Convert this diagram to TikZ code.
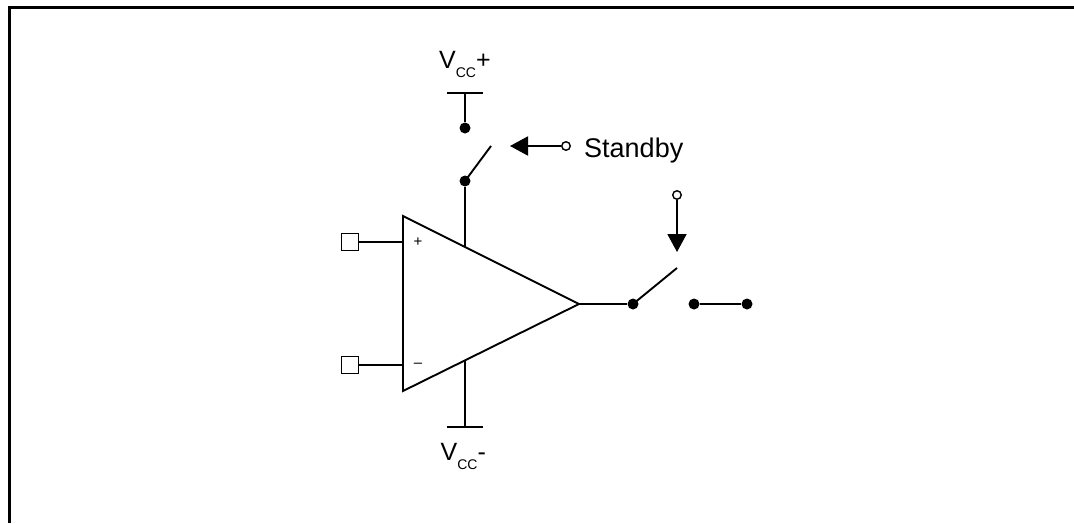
\documentclass[tikz,border=0pt]{standalone}
\usepackage{fontspec}
\setmainfont{Liberation Sans}
\usetikzlibrary{arrows.meta}
\tikzset{
  wire/.style={line width=1.9pt, line cap=butt},
  dotc/.style={circle, fill=black, inner sep=0pt, minimum size=11pt},
  opendot/.style={circle, draw=black, fill=white, line width=1.4pt, inner sep=0pt, minimum size=8.5pt},
  pinbox/.style={rectangle, draw=black, line width=1.6pt, inner sep=0pt, minimum size=17pt},
  lbl/.style={inner sep=0pt, anchor=base west},
  ctrl/.style={wire, -{Triangle[length=18pt,width=19pt]}}
}
\begin{document}
\begin{tikzpicture}[x=1pt,y=-1pt]
\useasboundingbox (0,0) rectangle (1074,523);
% frame
\draw[line width=3pt, line join=miter] (9,523) -- (9,7) -- (1074,7);

% op-amp triangle
\coordinate (tl) at (403,216);
\coordinate (bl) at (403,391);
\coordinate (tip) at (579,304);
\draw[line width=1.9pt, line join=miter] (tl) -- (tip) -- (bl) -- cycle;
\node[inner sep=0pt, font=\fontsize{15}{15}\selectfont] (plus) at (418,242) {+};
\node[inner sep=0pt, font=\fontsize{15}{15}\selectfont] (minus) at (418,365) {–};

% inputs
\node[pinbox] (inp) at (350,242) {};
\node[pinbox] (inn) at (350,365) {};
\coordinate (inpE) at (403,242);
\coordinate (innE) at (403,365);
\draw[wire] (inp.east) -- (inpE);
\draw[wire] (inn.east) -- (innE);

% Vcc+ supply with standby switch
\coordinate (vtop) at (465,93);
\coordinate (vtopL) at (447,93);
\coordinate (vtopR) at (483,93);
\draw[wire] (vtopL) -- (vtopR);
\node[dotc] (d1) at (465,128) {};
\node[dotc] (d2) at (465,181) {};
\draw[wire] (vtop) -- (d1);
\coordinate (b1) at (491,146);
\draw[wire] (d2.center) -- (b1);
\coordinate (amptop) at (465,247);
\draw[wire] (d2) -- (amptop);
\node[lbl] (vccp) at (439,68) {\fontsize{25}{25}\selectfont V\raisebox{-9.5pt}{\fontsize{14}{14}\selectfont CC}+};

% standby control
\coordinate (a1) at (510,146);
\node[opendot] (o1) at (566,146) {};
\draw[ctrl] (o1) -- (a1);
\node[lbl] (stby) at (584,157) {\fontsize{27}{27}\selectfont Standby};

% Vcc- supply
\coordinate (ampbot) at (465,360);
\coordinate (vbot) at (465,427);
\coordinate (vbotL) at (447,427);
\coordinate (vbotR) at (483,427);
\draw[wire] (ampbot) -- (vbot);
\draw[wire] (vbotL) -- (vbotR);
\node[lbl] (vccm) at (440.5,460) {\fontsize{25}{25}\selectfont V\raisebox{-9.5pt}{\fontsize{14}{14}\selectfont CC}-};

% output switch
\node[dotc] (d3) at (633,304) {};
\draw[wire] (tip) -- (d3);
\coordinate (b2) at (677,268);
\draw[wire] (d3.center) -- (b2);
\node[dotc] (d4) at (694,304) {};
\node[dotc] (d5) at (747,304) {};
\draw[wire] (d4) -- (d5);

% output control
\node[opendot] (o2) at (677,195) {};
\coordinate (a2) at (677,252);
\draw[ctrl] (o2) -- (a2);
\end{tikzpicture}
\end{document}
